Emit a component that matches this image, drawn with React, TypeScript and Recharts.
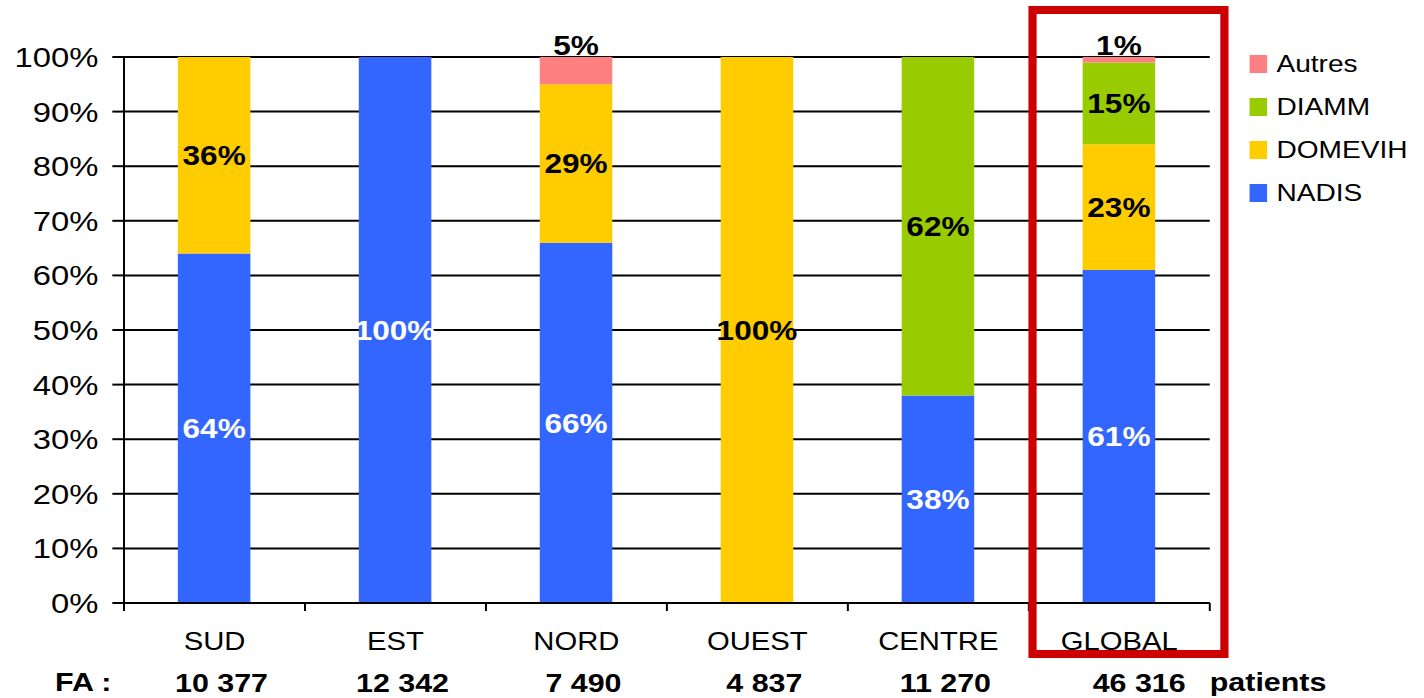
import React from "react"
import { BarChart, Bar, XAxis, YAxis, CartesianGrid, LabelList } from "recharts"

const categories = ["SUD", "EST", "NORD", "OUEST", "CENTRE", "GLOBAL"]
const nadis = [64, 100, 66, 0, 38, 61]
const domevih = [36, 0, 29, 100, 0, 23]
const diamm = [0, 0, 0, 0, 62, 15]
const autres = [0, 0, 5, 0, 0, 1]
const faCounts = ["10 377", "12 342", "7 490", "4 837", "11 270", "46 316"]
const yTicks = [0, 10, 20, 30, 40, 50, 60, 70, 80, 90, 100]

const series = [
  { key: "NADIS", name: "NADIS", color: "#3366FF", label: "#FFFFFF" },
  { key: "DOMEVIH", name: "DOMEVIH", color: "#FFCC00", label: "#000000" },
  { key: "DIAMM", name: "DIAMM", color: "#99CC00", label: "#000000" },
  { key: "Autres", name: "Autres", color: "#FF8080", label: "#000000" },
]

const data = categories.map((name, i) => ({
  name,
  NADIS: nadis[i],
  DOMEVIH: domevih[i],
  DIAMM: diamm[i],
  Autres: autres[i],
}))

// the reference is stretched horizontally, so draw narrower and scale x
const SX = 1.17
const W = 1217
const H = 698
const FONT = "'Liberation Sans', Arial, sans-serif"
const PLOT_LEFT = 106
const PLOT_RIGHT = 1034
const HALF_BAND = (PLOT_RIGHT - PLOT_LEFT) / categories.length / 2

const centerLabel = (color: string) => (props: any) => {
  const { x, y, width, height, value } = props
  if (!value) return null
  return (
    <text
      x={x + width / 2}
      y={y + height / 2 + 10}
      textAnchor="middle"
      fill={color}
      fontSize={27}
      fontWeight="bold"
      fontFamily={FONT}
    >
      {value}%
    </text>
  )
}

const topLabel = (props: any) => {
  const { x, y, width, value } = props
  if (!value) return null
  return (
    <text
      x={x + width / 2}
      y={y - 2}
      textAnchor="middle"
      fill="#000"
      fontSize={27}
      fontWeight="bold"
      fontFamily={FONT}
    >
      {value}%
    </text>
  )
}

function CategoryTick(props: any) {
  const { x, y, payload, index } = props
  const last = index === categories.length - 1
  return (
    <g>
      <line x1={x - HALF_BAND} y1={y - 8} x2={x - HALF_BAND} y2={y} stroke="#000" strokeWidth={1.7} />
      {last && (
        <line x1={x + HALF_BAND} y1={y - 8} x2={x + HALF_BAND} y2={y} stroke="#000" strokeWidth={1.7} />
      )}
      <text x={x} y={y + 39} textAnchor="middle" fill="#000" fontSize={25} fontFamily={FONT}>
        {payload.value}
      </text>
      <text
        x={x + (last ? 17 : 6)}
        y={y + 81}
        textAnchor="middle"
        fill="#000"
        fontSize={26}
        fontWeight="bold"
        fontFamily={FONT}
      >
        {faCounts[index]}
      </text>
    </g>
  )
}

export default function App() {
  const legendItems = [...series].reverse()
  return (
    <div
      style={{
        position: "absolute",
        left: 0,
        top: 0,
        width: W,
        height: H,
        transform: `scaleX(${SX})`,
        transformOrigin: "0 0",
        fontFamily: FONT,
        background: "#fff",
      }}
    >
      <BarChart
        width={W}
        height={H}
        data={data}
        margin={{ top: 57, right: W - PLOT_RIGHT, bottom: 35, left: 0 }}
        barSize={62}
      >
        <CartesianGrid vertical={false} stroke="#000" strokeWidth={2} />
        <XAxis
          dataKey="name"
          height={60}
          tickLine={false}
          axisLine={{ stroke: "#000", strokeWidth: 2 }}
          tick={<CategoryTick />}
          interval={0}
        />
        <YAxis
          width={PLOT_LEFT}
          domain={[0, 100]}
          ticks={yTicks}
          tickFormatter={(v) => `${v}%`}
          axisLine={{ stroke: "#000", strokeWidth: 1.7 }}
          tickLine={{ stroke: "#000", strokeWidth: 2 }}
          tickSize={10}
          tickMargin={12}
          tick={{ fill: "#000", fontSize: 28, fontFamily: FONT }}
          interval={0}
        />
        {series.map((s) => (
          <Bar key={s.key} dataKey={s.key} stackId="a" fill={s.color} isAnimationActive={false}>
            <LabelList dataKey={s.key} content={s.key === "Autres" ? topLabel : centerLabel(s.label)} />
          </Bar>
        ))}
      </BarChart>

      {/* legend */}
      <div style={{ position: "absolute", left: 1068, top: 42 }}>
        {legendItems.map((s) => (
          <div key={s.key} style={{ display: "flex", alignItems: "center", height: 43 }}>
            <div style={{ width: 15, height: 18, background: s.color, marginRight: 8 }} />
            <span style={{ fontSize: 24, color: "#000", lineHeight: "26px" }}>{s.name}</span>
          </div>
        ))}
      </div>

      {/* FA row captions */}
      <div
        style={{
          position: "absolute",
          left: 47,
          top: 667,
          fontSize: 26,
          fontWeight: "bold",
          color: "#000",
          lineHeight: "30px",
        }}
      >
        FA :
      </div>
      <div
        style={{
          position: "absolute",
          left: 1034,
          top: 667,
          fontSize: 26,
          fontWeight: "bold",
          color: "#000",
          lineHeight: "30px",
        }}
      >
        patients
      </div>

      {/* highlight box around GLOBAL */}
      <div
        style={{
          position: "absolute",
          left: 879,
          top: 6,
          width: 171,
          height: 652,
          boxSizing: "border-box",
          borderStyle: "solid",
          borderColor: "#CC0000",
          borderWidth: "8px 7px",
        }}
      />
    </div>
  )
}
